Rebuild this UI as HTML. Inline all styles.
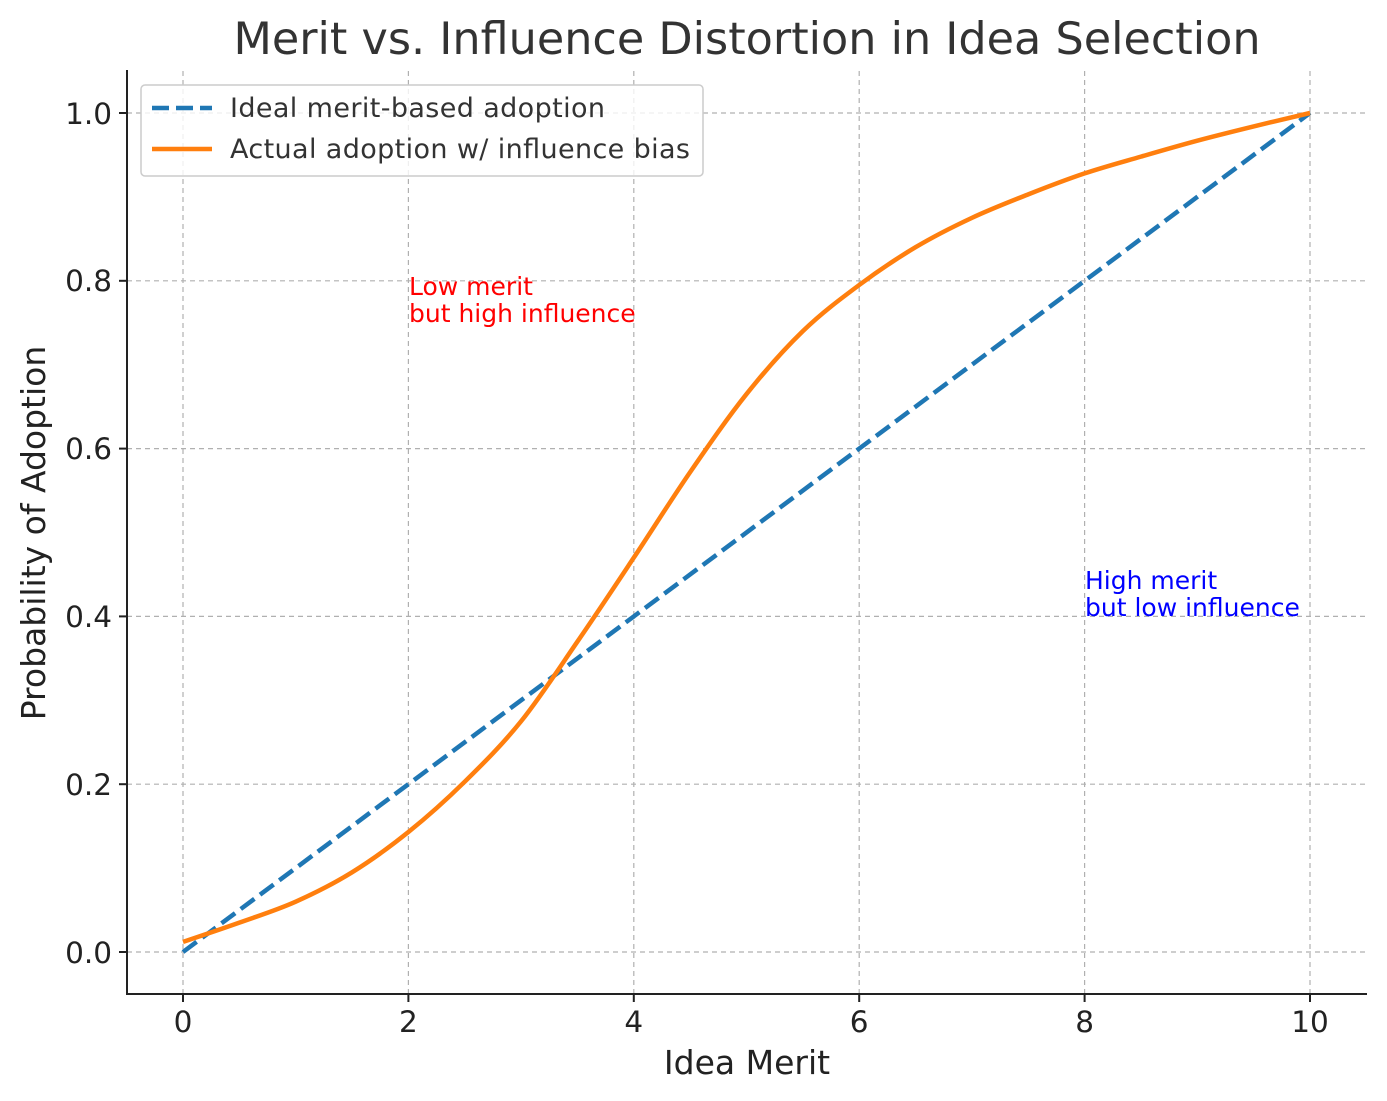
<!DOCTYPE html>
<html><head><meta charset="utf-8"><style>body{margin:0;background:#fff}svg{display:block}text{font-family:"DejaVu Sans","Liberation Sans",sans-serif}</style></head>
<body>
<svg id="s" width="1387" height="1101" viewBox="0 0 1387 1101" xmlns="http://www.w3.org/2000/svg">
<g stroke="#b0b0b0" stroke-width="1.2" stroke-dasharray="5,4" fill="none">
<line x1="183" y1="71" x2="183" y2="994"/><line x1="408.4" y1="71" x2="408.4" y2="994"/><line x1="633.8" y1="71" x2="633.8" y2="994"/><line x1="859.2" y1="71" x2="859.2" y2="994"/><line x1="1084.6" y1="71" x2="1084.6" y2="994"/><line x1="1310" y1="71" x2="1310" y2="994"/>
<line x1="127" y1="952" x2="1367" y2="952"/><line x1="127" y1="784.2" x2="1367" y2="784.2"/><line x1="127" y1="616.4" x2="1367" y2="616.4"/><line x1="127" y1="448.6" x2="1367" y2="448.6"/><line x1="127" y1="280.8" x2="1367" y2="280.8"/><line x1="127" y1="113" x2="1367" y2="113"/>
</g>
<line x1="183" y1="952" x2="1310" y2="113" stroke="#1f77b4" stroke-width="4.5" stroke-dasharray="17,7"/>
<path id="o" fill="none" stroke="#ff7f0e" stroke-width="4.5"/>
<g stroke="#222" stroke-width="2" fill="none"><line x1="127" y1="70" x2="127" y2="995"/><line x1="126" y1="994" x2="1367" y2="994"/></g>
<g stroke="#222" stroke-width="2">
<line x1="183" y1="994" x2="183" y2="1002"/><line x1="408.4" y1="994" x2="408.4" y2="1002"/><line x1="633.8" y1="994" x2="633.8" y2="1002"/><line x1="859.2" y1="994" x2="859.2" y2="1002"/><line x1="1084.6" y1="994" x2="1084.6" y2="1002"/><line x1="1310" y1="994" x2="1310" y2="1002"/>
<line x1="119" y1="952" x2="127" y2="952"/><line x1="119" y1="784.2" x2="127" y2="784.2"/><line x1="119" y1="616.4" x2="127" y2="616.4"/><line x1="119" y1="448.6" x2="127" y2="448.6"/><line x1="119" y1="280.8" x2="127" y2="280.8"/><line x1="119" y1="113" x2="127" y2="113"/>
</g>
<g font-size="29.5" fill="#222" text-anchor="middle">
<text x="183" y="1032">0</text><text x="408.4" y="1032">2</text><text x="633.8" y="1032">4</text><text x="859.2" y="1032">6</text><text x="1084.6" y="1032">8</text><text x="1310" y="1032">10</text>
</g>
<g font-size="29.5" fill="#222" text-anchor="end">
<text x="112" y="963">0.0</text><text x="112" y="795">0.2</text><text x="112" y="627">0.4</text><text x="112" y="459">0.6</text><text x="112" y="291">0.8</text><text x="112" y="124">1.0</text>
</g>
<text x="747" y="1074" font-size="33" fill="#222" text-anchor="middle">Idea Merit</text>
<text transform="translate(45,533) rotate(-90)" font-size="33" fill="#222" text-anchor="middle">Probability of Adoption</text>
<text x="747" y="54" font-size="44.5" fill="#333" text-anchor="middle">Merit vs. Influence Distortion in Idea Selection</text>
<text x="409" y="295" font-size="25" fill="red">Low merit</text><text x="409" y="322" font-size="25" fill="red">but high influence</text>
<text x="1085" y="589" font-size="25" fill="blue">High merit</text><text x="1085" y="616" font-size="25" fill="blue">but low influence</text>
<rect x="141" y="85" width="562" height="91" rx="4" fill="#fff" fill-opacity="0.8" stroke="#ccc" stroke-width="1.5"/>
<line x1="152" y1="108" x2="212" y2="108" stroke="#1f77b4" stroke-width="4.5" stroke-dasharray="17,7"/>
<line x1="152" y1="149" x2="212" y2="149" stroke="#ff7f0e" stroke-width="4.5"/>
<text x="230" y="117" font-size="27" fill="#333" textLength="375">Ideal merit-based adoption</text>
<text x="230" y="158" font-size="27" fill="#333" textLength="460">Actual adoption w/ influence bias</text>
</svg>
<script>
var ys=[0.012,0.035,0.06,0.095,0.143,0.203,0.275,0.37,0.47,0.572,0.665,0.74,0.795,0.84,0.875,0.903,0.928,0.948,0.967,0.984,1.0];
var P=ys.map(function(y,i){return [183+112.7*(i*0.5),952-839*y]});
var d="M"+P[0][0]+","+P[0][1];
for(var i=0;i<P.length-1;i++){var p0=P[Math.max(0,i-1)],p1=P[i],p2=P[i+1],p3=P[Math.min(P.length-1,i+2)];
d+=" C"+(p1[0]+(p2[0]-p0[0])/6)+","+(p1[1]+(p2[1]-p0[1])/6)+" "+(p2[0]-(p3[0]-p1[0])/6)+","+(p2[1]-(p3[1]-p1[1])/6)+" "+p2[0]+","+p2[1];}
document.getElementById("o").setAttribute("d",d);
</script>
</body></html>
